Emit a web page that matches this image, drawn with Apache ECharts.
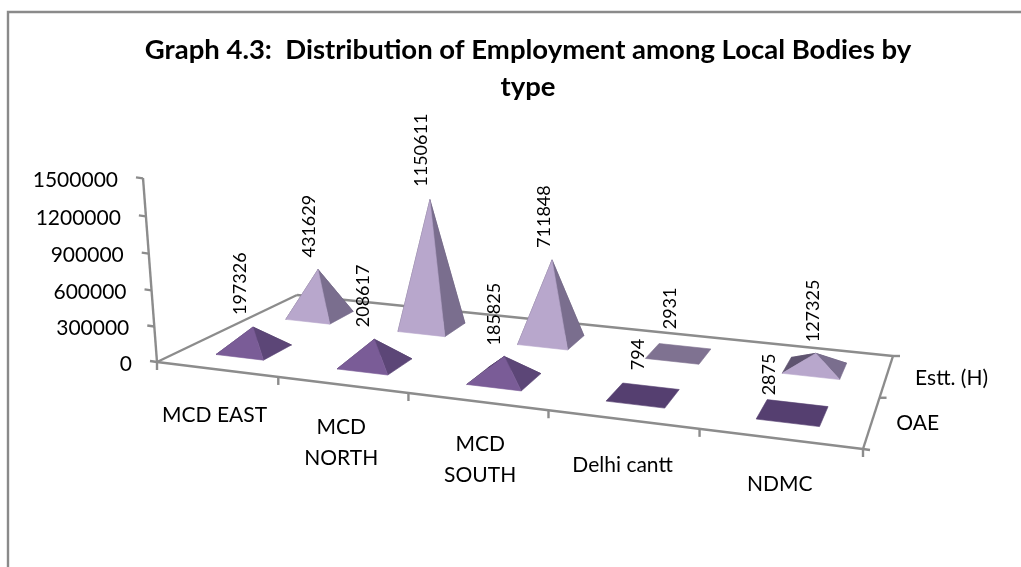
<!DOCTYPE html>
<html><head><meta charset="utf-8">
<style>html,body{margin:0;padding:0;background:#fff}#c{width:1021px;height:567px}</style>
<script src="https://cdn.jsdelivr.net/npm/echarts@6/dist/echarts.min.js"></script>
</head><body><div id="c"></div>
<script>
const categories = ['MCD EAST', 'MCD\nNORTH', 'MCD\nSOUTH', 'Delhi cantt', 'NDMC'];
const depthLabels = ['OAE', 'Estt. (H)'];
const oaeValues = [197326, 208617, 185825, 794, 2875];
const esttValues = [431629, 1150611, 711848, 2931, 127325];
const tickValues = [0, 300000, 600000, 900000, 1200000, 1500000];

// Layout of the 3D box (pixels): floor corners and the top of the value axis
const FL = [157, 362], FR = [863, 449], BR = [893, 356], BL = [297, 295];
const AXIS_TOP = [143, 178], VANISH = [500, 4860];
const GRID = {left: 157, top: 178, width: 706, height: 184};
const FONT = 'Lato, "Open Sans", sans-serif';
const LINE = '#8c8c8c';
const HALF = 0.2;
const U_WARP = 0.02;
const CAT_LABEL_DX = [-2, -1, 3, 0, 0];

// floor homography
const H = (function () {
  const [x0, y0] = FL, [x1, y1] = FR, [x2, y2] = BR, [x3, y3] = BL;
  const dx1 = x1 - x2, dx2 = x3 - x2, sx = x0 - x1 + x2 - x3;
  const dy1 = y1 - y2, dy2 = y3 - y2, sy = y0 - y1 + y2 - y3;
  const den = dx1 * dy2 - dx2 * dy1;
  const g = (sx * dy2 - dx2 * sy) / den, h = (dx1 * sy - sx * dy1) / den;
  const cw = (FL[0] - AXIS_TOP[0]) / (AXIS_TOP[0] - VANISH[0]);
  return {a: x1 - x0 + g * x1, b: x3 - x0 + h * x3, c: x0,
          d: y1 - y0 + g * y1, e: y3 - y0 + h * y3, f: y0, g, h,
          A: VANISH[0] * cw, B: VANISH[1] * cw, C: cw};
})();
function project(u0, v, z) {
  const u = u0 - U_WARP * u0 * (1 - u0);
  const w = H.g * u + H.h * v + 1 + H.C * z;
  return [(H.a * u + H.b * v + H.c + H.A * z) / w,
          (H.d * u + H.e * v + H.f + H.B * z) / w];
}
// read the library's scales: category band -> u, value -> z
function uz(api, cat, val) {
  const p = api.coord([cat, val]);
  return [(p[0] - GRID.left) / GRID.width, (GRID.top + GRID.height - p[1]) / GRID.height];
}
function seg(a, b) {
  return {type: 'line', shape: {x1: a[0], y1: a[1], x2: b[0], y2: b[1]},
          style: {stroke: LINE, lineWidth: 2.4}, silent: true};
}
function txt(x, y, s, size, align, extra) {
  return Object.assign({type: 'text', x, y, silent: true, style: Object.assign({text: s, fontFamily: FONT, fontSize: size,
    fill: '#000', align: align || 'center', verticalAlign: 'middle'}, extra && extra.style)},
    extra && extra.rotation ? {rotation: extra.rotation} : {});
}
function mix(a, b, t) {
  const pa = a.match(/\w\w/g).map(h => parseInt(h, 16)), pb = b.match(/\w\w/g).map(h => parseInt(h, 16));
  return 'rgb(' + pa.map((c, i) => Math.round(c + (pb[i] - c) * t)).join(',') + ')';
}

const palettes = [
  {flat: '#553f70', front: '#7a5c97', right: '#5c4677', left: '#4a3860'},
  {flat: '#7f7291', front: '#b8a7cc', right: '#7a6e8e', left: '#5f5470'}
];
// label nudges from the apex (pixels)
const labelNudge = [
  [[-13, -12], [-11, -12], [-10, -11], [-5, -25], [-23, -17]],
  [[-9, -12], [-9, -13], [-8, -12], [-8, -24], [-3, -11]]
];

function pyramidRender(rowIdx) {
  return function (params, api) {
    const cat = api.value(0), val = api.value(1);
    const [u0] = uz(api, cat, 0);
    const [, z] = uz(api, cat, val);
    const du = HALF / categories.length, dv = HALF / depthLabels.length;
    const v0 = (rowIdx + 0.5) / depthLabels.length;
    const lf = project(u0 - du, v0 - dv, 0), rf = project(u0 + du, v0 - dv, 0);
    const rb = project(u0 + du, v0 + dv, 0), lb = project(u0 - du, v0 + dv, 0);
    const apex = project(u0, v0, z);
    const pal = palettes[rowIdx];
    const t = val < 10000 ? 0 : Math.min(1, val / 110000);
    const face = (pts, col) => ({type: 'polygon', shape: {points: pts},
      style: {fill: mix(pal.flat, col, t), stroke: mix(pal.flat, col, t), lineWidth: 0.6}});
    const n = labelNudge[rowIdx][cat];
    const kids = t === 0
      ? [face([lf, rf, rb, lb], pal.flat)]
      : [face([lb, rb, apex], pal.left), face([lf, lb, apex], pal.left),
         face([rf, rb, apex], pal.right), face([lf, rf, apex], pal.front)];
    kids.push(txt(apex[0] + n[0], apex[1] + n[1], String(val), 18, 'left', {rotation: Math.PI / 2}));
    return {type: 'group', children: kids};
  };
}

const option = {
  animation: false,
  backgroundColor: '#fff',
  title: {
    text: 'Graph 4.3:  Distribution of Employment among Local Bodies by\ntype',
    left: 523, top: 27, textAlign: 'center',
    textStyle: {fontFamily: FONT, fontWeight: 'bold', fontSize: 27.5, lineHeight: 37, color: '#000'}
  },
  grid: GRID,
  xAxis: {type: 'category', data: categories, show: false},
  yAxis: {type: 'value', min: 0, max: 1500000, interval: 300000, show: false},
  graphic: [{type: 'polyline', silent: true,
    shape: {points: [[8, 567], [8, 12], [1021, 12]]},
    style: {stroke: '#8a8a8a', lineWidth: 2.4, fill: 'none'}}],
  series: [
    {type: 'custom', name: 'Axes', z: 1, silent: true, encode: {x: 0, y: 1},
     data: tickValues.map(t => [0, t]),
     renderItem(params, api) {
       const [, z] = uz(api, 0, api.value(1));
       const p = project(0, 0, z);
       const kids = [seg([p[0] - 7, p[1] - 1], p),
         txt(p[0] - 25, p[1] + 2, String(api.value(1)), 21, 'right')];
       if (params.dataIndex === 0) {
         kids.push(seg(FL, AXIS_TOP), seg(FL, FR), seg(FL, BL), seg(BL, BR), seg(BR, FR));
         kids.push(seg(FL, [FL[0], FL[1] + 8]));
         kids.push(seg(FR, [FR[0] + 7, FR[1] + 1]));
         kids.push(seg(FR, [FR[0], FR[1] + 8]));
         kids.push(seg(BR, [BR[0] + 7, BR[1]]));
         const mid = project(1, 0.5, 0);
         kids.push(seg(mid, [mid[0] + 7, mid[1]]));
         const q0 = project(1, 0.25, 0), q1 = project(1, 0.75, 0);
         kids.push(txt(q0[0] + 46, q0[1] + 1, depthLabels[0], 21));
         kids.push(txt(q1[0] + 65, q1[1] + 2, depthLabels[1], 21));
       }
       return {type: 'group', children: kids};
     }},
    {type: 'custom', name: 'Categories', z: 1, silent: true, encode: {x: 0, y: 1},
     data: categories.map((c, i) => [i, 0]),
     renderItem(params, api) {
       const i = api.value(0);
       const [u] = uz(api, i, 0);
       const du = 0.5 / categories.length;
       const p = project(u, 0, 0), end = project(u + du, 0, 0);
       const s = categories[i], two = s.indexOf('\n') >= 0;
       const kids = [txt(p[0] + CAT_LABEL_DX[i], p[1] + (two ? 58 : 46), s, 21, 'center', {style: {lineHeight: 31}})];
       if (i < categories.length - 1) kids.push(seg(end, [end[0], end[1] + 8]));
       return {type: 'group', children: kids};
     }},
    {type: 'custom', name: depthLabels[1], z: 2, encode: {x: 0, y: 1},
     data: esttValues.map((v, i) => [i, v]), renderItem: pyramidRender(1)},
    {type: 'custom', name: depthLabels[0], z: 3, encode: {x: 0, y: 1},
     data: oaeValues.map((v, i) => [i, v]), renderItem: pyramidRender(0)}
  ]
};
echarts.init(document.getElementById('c'), null, {renderer: 'canvas'}).setOption(option);
</script></body></html>
